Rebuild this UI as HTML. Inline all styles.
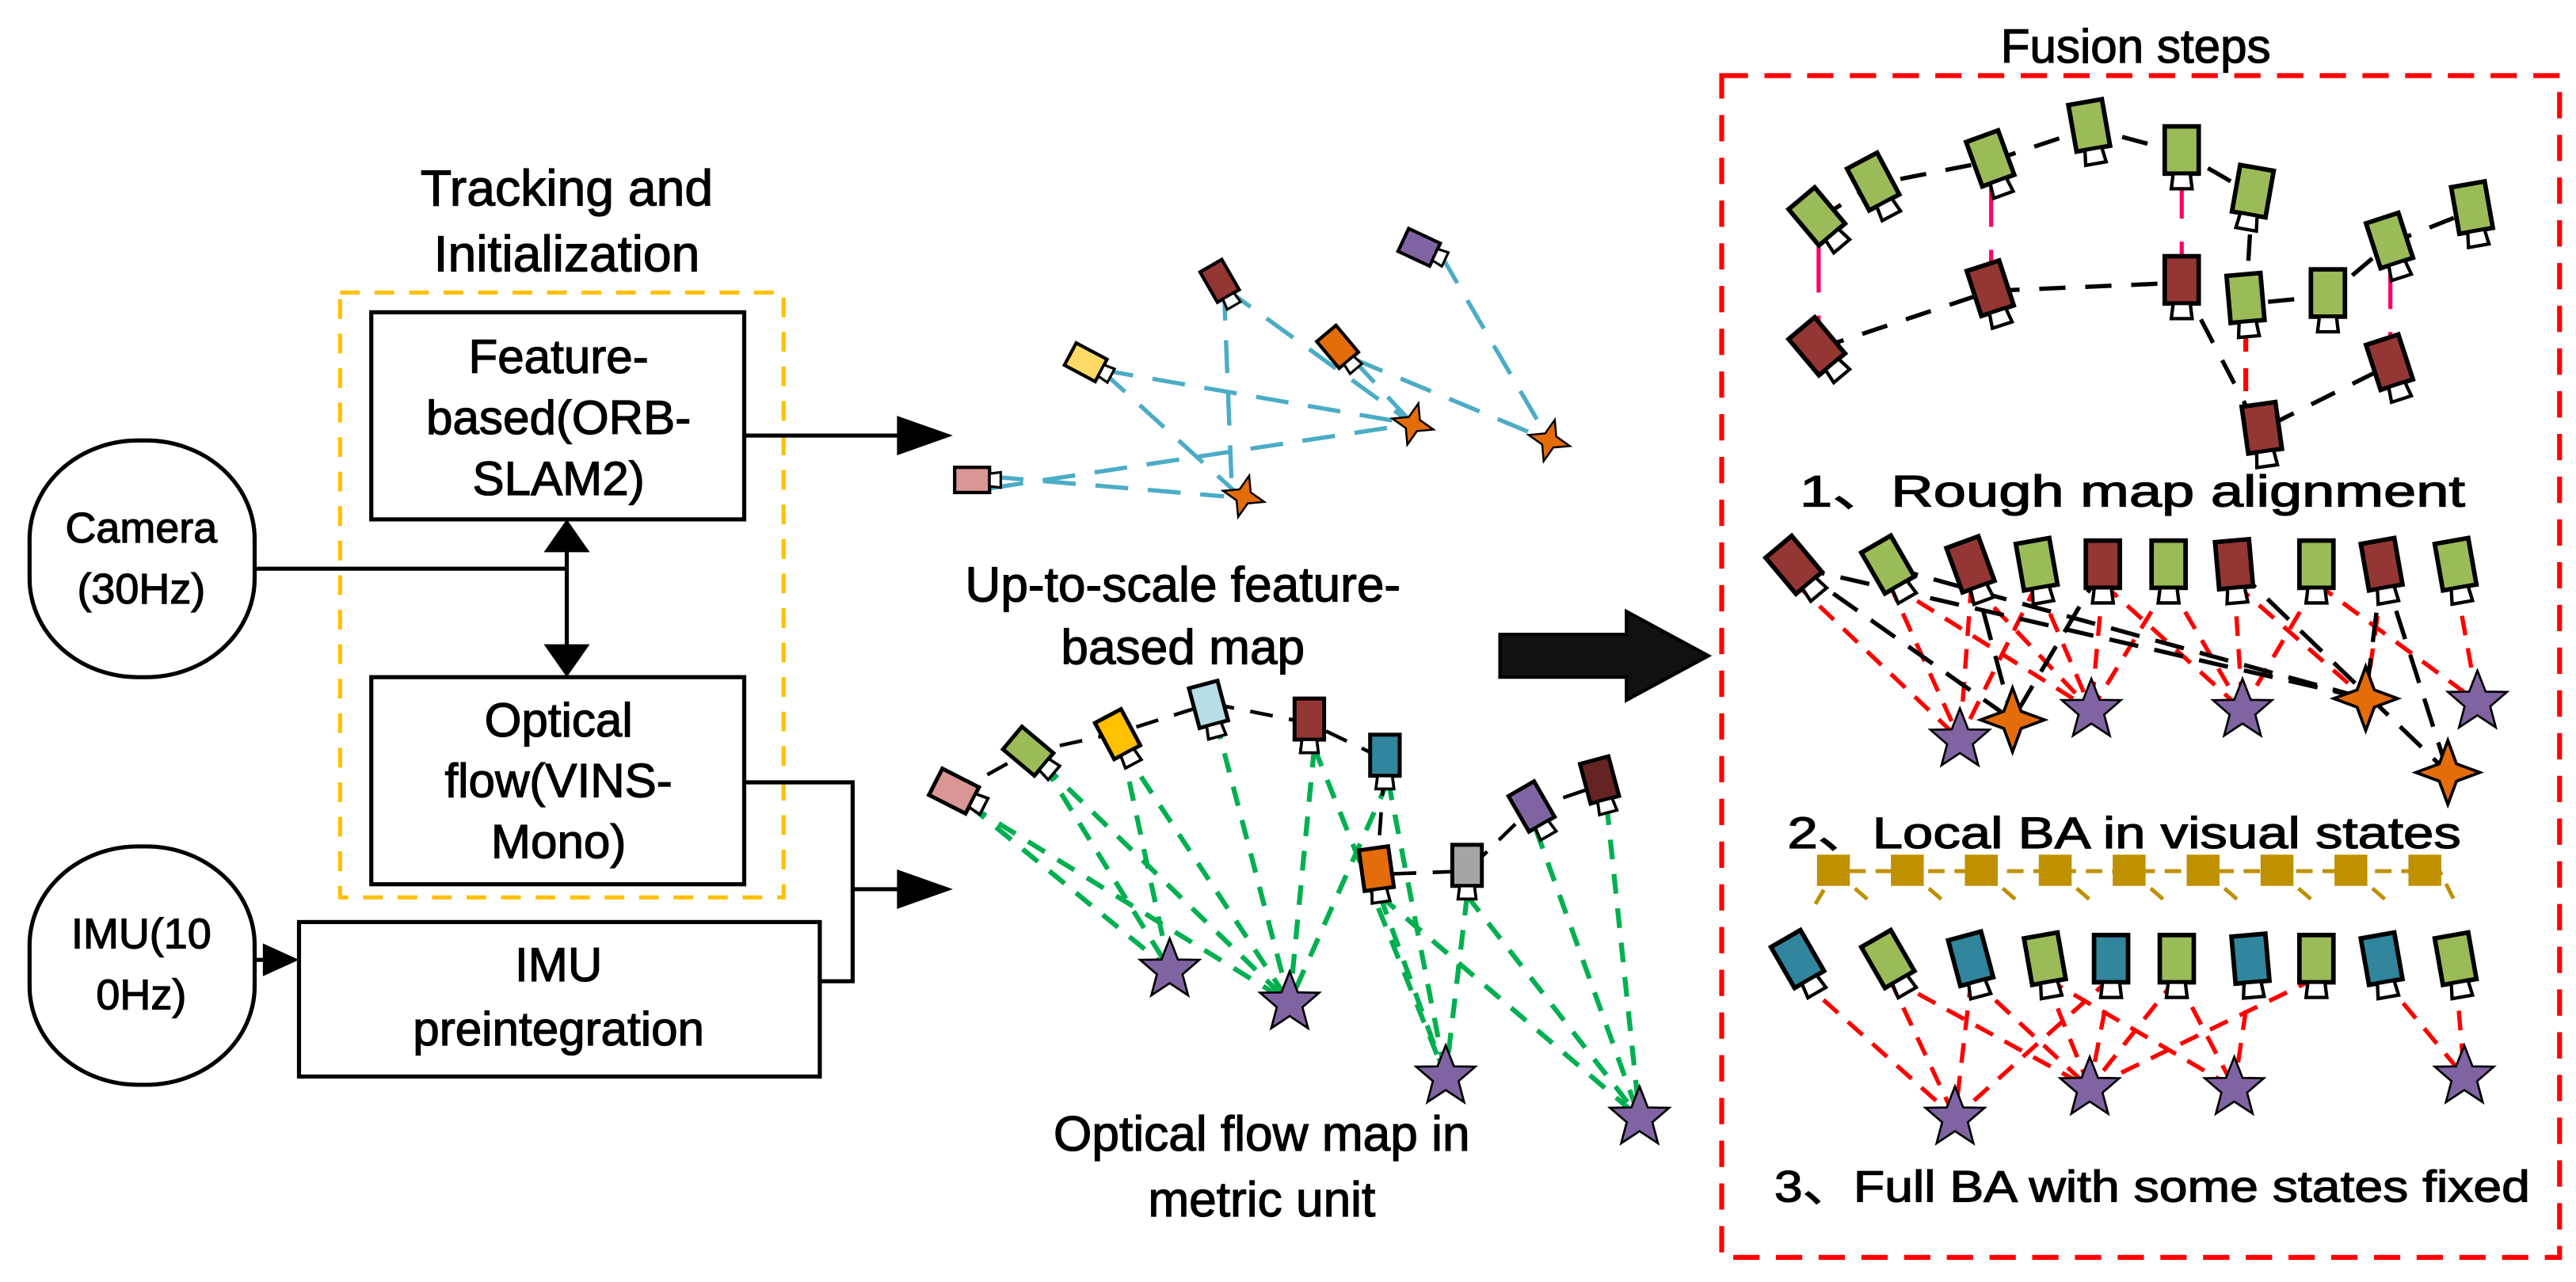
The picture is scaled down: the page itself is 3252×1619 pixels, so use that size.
<!DOCTYPE html>
<html><head><meta charset="utf-8"><style>
html,body{margin:0;padding:0;background:#fff;}
svg{display:block;}
text{font-family:"Liberation Sans",sans-serif;fill:#000;stroke:#000;stroke-width:0.6;}
</style></head><body>
<svg width="3252" height="1619" viewBox="0 0 1568 780" preserveAspectRatio="none" xmlns="http://www.w3.org/2000/svg">
<defs>
<g id="cam"><rect x="-9" y="-14" width="18" height="25" stroke="#000" stroke-width="2.4"/><path d="M-4.5 11 L4.5 11 L5.5 19 L-5.5 19 Z" fill="#fff" stroke="#000" stroke-width="1.8"/></g>
<path id="st5" d="M0,-19 L5,-6.2 L18,-6 L7.8,2.8 L11.2,15.6 L0,8.2 L-11.2,15.6 L-7.8,2.8 L-18,-6 L-5,-6.2 Z" fill="#8064a2" stroke="#000" stroke-width="1.3"/>
<path id="st4" d="M0,-13 L3.5,-3.5 L13,0 L3.5,3.5 L0,13 L-3.5,3.5 L-13,0 L-3.5,-3.5 Z" fill="#e46c0a" stroke="#000" stroke-width="1.2"/>
</defs>

<!-- Left section -->
<text x="345" y="125" font-size="31" text-anchor="middle">Tracking and</text>
<text x="345" y="165" font-size="31" text-anchor="middle">Initialization</text>
<rect x="207" y="178" width="270" height="368" fill="none" stroke="#ffc000" stroke-width="2.5" stroke-dasharray="12,9"/>
<rect x="226" y="190" width="227" height="126" fill="#fff" stroke="#000" stroke-width="2.5"/>
<text x="340" y="227" font-size="29" text-anchor="middle">Feature-</text>
<text x="340" y="264" font-size="29" text-anchor="middle">based(ORB-</text>
<text x="340" y="301" font-size="29" text-anchor="middle">SLAM2)</text>
<rect x="226" y="412" width="227" height="126" fill="#fff" stroke="#000" stroke-width="2.5"/>
<text x="340" y="448" font-size="29" text-anchor="middle">Optical</text>
<text x="340" y="485" font-size="29" text-anchor="middle">flow(VINS-</text>
<text x="340" y="522" font-size="29" text-anchor="middle">Mono)</text>
<rect x="182" y="561" width="317" height="94" fill="#fff" stroke="#000" stroke-width="2.5"/>
<text x="340" y="597" font-size="29" text-anchor="middle">IMU</text>
<text x="340" y="636" font-size="29" text-anchor="middle">preintegration</text>
<rect x="18" y="268" width="137" height="144" rx="66" ry="60" fill="#fff" stroke="#000" stroke-width="2.5"/>
<text x="86" y="330" font-size="26" text-anchor="middle">Camera</text>
<text x="86" y="367" font-size="26" text-anchor="middle">(30Hz)</text>
<rect x="18" y="515" width="137" height="145" rx="66" ry="60" fill="#fff" stroke="#000" stroke-width="2.5"/>
<text x="86" y="577" font-size="26" text-anchor="middle">IMU(10</text>
<text x="86" y="614" font-size="26" text-anchor="middle">0Hz)</text>
<g stroke="#000" stroke-width="2.5" fill="none">
<path d="M155,346 H345"/>
<path d="M345,335 V395"/>
<path d="M453,265 H548"/>
<path d="M453,476 H519 V597 H499"/>
<path d="M519,541 H548"/>
<path d="M155,584 H165"/>
</g>
<path d="M345,316 L331,336 L359,336 Z"/>
<path d="M345,412 L331,392 L359,392 Z"/>
<path d="M580,265 L546,253 L546,277 Z"/>
<path d="M580,541 L546,529 L546,553 Z"/>
<path d="M182,584 L160,574 L160,594 Z"/>

<!-- upper map -->
<g stroke="#4bacc6" stroke-width="2.6" stroke-dasharray="20,12" fill="none">
<path d="M603,290 L745,302"/><path d="M603,297 L860,258"/>
<path d="M670,225 L860,258"/><path d="M670,225 L755,302"/>
<path d="M745,175 L750,302"/><path d="M745,175 L860,258"/>
<path d="M823,218 L943,268"/><path d="M823,218 L860,258"/>
<path d="M877,155 L943,268"/>
</g>
<use href="#cam" transform="translate(593,292) rotate(-90) scale(0.85)" fill="#d99694"/>
<use href="#cam" transform="translate(662,221) rotate(-62) scale(0.85)" fill="#ffd966"/>
<use href="#cam" transform="translate(743,172) rotate(-30) scale(0.85)" fill="#943634"/>
<use href="#cam" transform="translate(815,212) rotate(-40) scale(0.85)" fill="#e46c0a"/>
<use href="#cam" transform="translate(865,151) rotate(-65) scale(0.85)" fill="#8064a2"/>
<use href="#st4" transform="translate(860,258) rotate(15)"/>
<use href="#st4" transform="translate(943,268) rotate(15)"/>
<use href="#st4" transform="translate(757,302) rotate(15)"/>
<text x="720" y="366" font-size="30" text-anchor="middle">Up-to-scale feature-</text>
<text x="720" y="404" font-size="30" text-anchor="middle">based map</text>

<!-- big arrow -->
<path d="M913,386 H990 V372 L1040,399 L990,426 V412 H913 Z" fill="#111" stroke="#000" stroke-width="2"/>

<!-- lower map -->
<g stroke="#00b050" stroke-width="3" stroke-dasharray="12,9" fill="none">
<path d="M590,490 L712,590"/><path d="M590,490 L785,610"/>
<path d="M635,465 L712,590"/><path d="M635,465 L785,610"/>
<path d="M683,455 L712,590"/><path d="M683,455 L785,610"/>
<path d="M740,438 L785,610"/>
<path d="M800,455 L785,610"/><path d="M800,455 L880,655"/>
<path d="M845,475 L785,610"/><path d="M845,475 L880,655"/>
<path d="M840,545 L880,655"/><path d="M840,545 L998,680"/>
<path d="M893,545 L880,655"/><path d="M893,545 L998,680"/>
<path d="M935,505 L998,680"/><path d="M978,490 L998,680"/>
</g>
<g stroke="#000" stroke-width="2.2" stroke-dasharray="14,10" fill="none">
<path d="M580,483 L625,458 L680,446 L737,428 L797,440 L843,462 L838,532 L893,530 L932,492 L973,478"/>
</g>
<use href="#cam" transform="translate(582,482) rotate(-63)" fill="#d99694"/>
<use href="#cam" transform="translate(627,458) rotate(-50)" fill="#9bbb59"/>
<use href="#cam" transform="translate(681,448) rotate(-28)" fill="#ffc000"/>
<use href="#cam" transform="translate(736,430) rotate(-15)" fill="#b7dde8"/>
<use href="#cam" transform="translate(797,439) rotate(0)" fill="#943634"/>
<use href="#cam" transform="translate(843,461) rotate(0)" fill="#31859c"/>
<use href="#cam" transform="translate(838,530) rotate(-8)" fill="#e46c0a"/>
<use href="#cam" transform="translate(893,528) rotate(0)" fill="#a5a5a5"/>
<use href="#cam" transform="translate(933,492) rotate(-30)" fill="#8064a2"/>
<use href="#cam" transform="translate(974,476) rotate(-15)" fill="#632423"/>
<use href="#st5" transform="translate(712,590)"/>
<use href="#st5" transform="translate(785,610)"/>
<use href="#st5" transform="translate(880,655)"/>
<use href="#st5" transform="translate(998,680)"/>
<text x="768" y="700" font-size="30" text-anchor="middle">Optical flow map in</text>
<text x="768" y="740" font-size="30" text-anchor="middle">metric unit</text>

<!-- Fusion -->
<text x="1300" y="38" font-size="29" text-anchor="middle">Fusion steps</text>
<rect x="1048" y="46" width="510" height="719" fill="none" stroke="#ff0000" stroke-width="3" stroke-dasharray="16,10"/>

<!-- step1 -->
<g stroke="#ff0066" stroke-width="2.5" stroke-dasharray="28,14"><path d="M1107,150 V205"/><path d="M1212,110 V175"/><path d="M1328,105 V170"/><path d="M1455,160 V215"/></g>
<path d="M1367,200 V255" stroke="#ff0000" stroke-width="3" stroke-dasharray="14,10"/>
<g stroke="#000" stroke-width="2.6" stroke-dasharray="16,12" fill="none">
<path d="M1107,133 L1141,112 L1212,98 L1272,78 L1328,93 L1371,118 L1367,185 L1417,180 L1455,148 L1505,128"/>
<path d="M1107,212 L1212,177 L1328,172 L1375,262 L1455,222"/>
</g>
<g transform="translate(0,0)">
<use href="#cam" transform="translate(1107,133) rotate(-40) scale(1.15)" fill="#9bbb59"/>
<use href="#cam" transform="translate(1141,112) rotate(-28) scale(1.15)" fill="#9bbb59"/>
<use href="#cam" transform="translate(1212,98) rotate(-20) scale(1.15)" fill="#9bbb59"/>
<use href="#cam" transform="translate(1272,78) rotate(-10) scale(1.15)" fill="#9bbb59"/>
<use href="#cam" transform="translate(1328,93) rotate(0) scale(1.15)" fill="#9bbb59"/>
<use href="#cam" transform="translate(1371,118) rotate(10) scale(1.15)" fill="#9bbb59"/>
<use href="#cam" transform="translate(1367,183) rotate(-5) scale(1.15)" fill="#9bbb59"/>
<use href="#cam" transform="translate(1417,180) rotate(0) scale(1.15)" fill="#9bbb59"/>
<use href="#cam" transform="translate(1455,148) rotate(-18) scale(1.15)" fill="#9bbb59"/>
<use href="#cam" transform="translate(1505,128) rotate(-10) scale(1.15)" fill="#9bbb59"/>
<use href="#cam" transform="translate(1107,212) rotate(-40) scale(1.15)" fill="#943634"/>
<use href="#cam" transform="translate(1212,177) rotate(-18) scale(1.15)" fill="#943634"/>
<use href="#cam" transform="translate(1328,172) rotate(0) scale(1.15)" fill="#943634"/>
<use href="#cam" transform="translate(1455,222) rotate(-18) scale(1.15)" fill="#943634"/>
<use href="#cam" transform="translate(1377,262) rotate(-8) scale(1.15)" fill="#943634"/>
</g>
<text x="1298" y="308" font-size="27" text-anchor="middle" textLength="405" lengthAdjust="spacingAndGlyphs">1、Rough map alignment</text>

<!-- step2 -->
<g stroke="#ff0000" stroke-width="2.6" stroke-dasharray="12,8" fill="none">
<path d="M1093,355 L1193,450"/><path d="M1150,355 L1193,450"/><path d="M1150,355 L1273,432"/>
<path d="M1200,355 L1193,450"/><path d="M1200,355 L1273,432"/><path d="M1240,355 L1273,432"/><path d="M1240,355 L1193,450"/>
<path d="M1280,355 L1273,432"/><path d="M1280,355 L1365,432"/><path d="M1320,355 L1365,432"/><path d="M1320,355 L1273,432"/>
<path d="M1360,355 L1365,432"/><path d="M1360,355 L1440,425"/><path d="M1410,355 L1365,432"/><path d="M1410,355 L1508,427"/>
<path d="M1450,355 L1440,425"/><path d="M1495,355 L1508,427"/>
</g>
<g stroke="#000" stroke-width="2.6" stroke-dasharray="18,10" fill="none">
<path d="M1093,345 L1225,438"/><path d="M1093,345 L1440,425"/><path d="M1150,345 L1440,425"/>
<path d="M1200,345 L1225,438"/><path d="M1280,345 L1225,438"/><path d="M1360,345 L1490,470"/><path d="M1450,345 L1440,425"/><path d="M1450,345 L1490,470"/>
</g>
<use href="#cam" transform="translate(1093,345) rotate(-40) scale(1.15)" fill="#943634"/>
<use href="#cam" transform="translate(1150,345) rotate(-30) scale(1.15)" fill="#9bbb59"/>
<use href="#cam" transform="translate(1200,345) rotate(-20) scale(1.15)" fill="#943634"/>
<use href="#cam" transform="translate(1240,345) rotate(-10) scale(1.15)" fill="#9bbb59"/>
<use href="#cam" transform="translate(1280,345) rotate(0) scale(1.15)" fill="#943634"/>
<use href="#cam" transform="translate(1320,345) rotate(0) scale(1.15)" fill="#9bbb59"/>
<use href="#cam" transform="translate(1360,345) rotate(-5) scale(1.15)" fill="#943634"/>
<use href="#cam" transform="translate(1410,345) rotate(0) scale(1.15)" fill="#9bbb59"/>
<use href="#cam" transform="translate(1450,345) rotate(-10) scale(1.15)" fill="#943634"/>
<use href="#cam" transform="translate(1495,345) rotate(-10) scale(1.15)" fill="#9bbb59"/>
<use href="#st5" transform="translate(1193,450)"/>
<use href="#st5" transform="translate(1273,432)"/>
<use href="#st5" transform="translate(1365,432)"/>
<use href="#st5" transform="translate(1508,427)"/>
<use href="#st4" transform="translate(1225,438) scale(1.5)"/>
<use href="#st4" transform="translate(1440,425) scale(1.5)"/>
<use href="#st4" transform="translate(1490,470) scale(1.5)"/>
<text x="1293" y="516" font-size="27" text-anchor="middle" textLength="410" lengthAdjust="spacingAndGlyphs">2、Local BA in visual states</text>

<!-- step3 -->
<g stroke="#bf9000" stroke-width="2.4" stroke-dasharray="10,6" fill="none"><path d="M1105,550 L1117,530 H1485 L1495,550"/><path d="M1117,530 L1140,550 M1162,530 L1185,550 M1207,530 L1230,550 M1252,530 L1275,550 M1297,530 L1320,550 M1342,530 L1365,550 M1387,530 L1410,550 M1432,530 L1455,550"/></g>
<g fill="#bf9000">
<rect x="1106" y="520" width="20" height="19"/><rect x="1151" y="520" width="20" height="19"/><rect x="1196" y="520" width="20" height="19"/><rect x="1241" y="520" width="20" height="19"/><rect x="1286" y="520" width="20" height="19"/><rect x="1331" y="520" width="20" height="19"/><rect x="1376" y="520" width="20" height="19"/><rect x="1421" y="520" width="20" height="19"/><rect x="1466" y="520" width="20" height="19"/>
</g>
<g stroke="#ff0000" stroke-width="2.6" stroke-dasharray="12,8" fill="none">
<path d="M1095,595 L1190,680"/><path d="M1150,595 L1190,680"/><path d="M1150,595 L1272,662"/>
<path d="M1200,595 L1190,680"/><path d="M1200,595 L1272,662"/><path d="M1245,595 L1272,662"/><path d="M1245,595 L1360,662"/>
<path d="M1285,595 L1272,662"/><path d="M1285,595 L1190,680"/><path d="M1325,595 L1360,662"/><path d="M1325,595 L1272,662"/>
<path d="M1370,595 L1360,662"/><path d="M1410,595 L1272,662"/><path d="M1450,595 L1500,655"/><path d="M1495,595 L1500,655"/>
</g>
<g stroke="#e46c0a" stroke-width="2">
<use href="#cam" transform="translate(1095,585) rotate(-30) scale(1.15)" fill="#31859c"/>
<use href="#cam" transform="translate(1200,585) rotate(-15) scale(1.15)" fill="#31859c"/>
<use href="#cam" transform="translate(1285,585) rotate(0) scale(1.15)" fill="#31859c"/>
<use href="#cam" transform="translate(1370,585) rotate(-5) scale(1.15)" fill="#31859c"/>
<use href="#cam" transform="translate(1450,585) rotate(-10) scale(1.15)" fill="#31859c"/>
</g>
<use href="#cam" transform="translate(1150,585) rotate(-30) scale(1.15)" fill="#9bbb59"/>
<use href="#cam" transform="translate(1245,585) rotate(-10) scale(1.15)" fill="#9bbb59"/>
<use href="#cam" transform="translate(1325,585) rotate(0) scale(1.15)" fill="#9bbb59"/>
<use href="#cam" transform="translate(1410,585) rotate(0) scale(1.15)" fill="#9bbb59"/>
<use href="#cam" transform="translate(1495,585) rotate(-10) scale(1.15)" fill="#9bbb59"/>
<use href="#st5" transform="translate(1190,680)"/>
<use href="#st5" transform="translate(1272,662)"/>
<use href="#st5" transform="translate(1360,662)"/>
<use href="#st5" transform="translate(1500,655)"/>
<text x="1310" y="731" font-size="27" text-anchor="middle" textLength="460" lengthAdjust="spacingAndGlyphs">3、Full BA with some states fixed</text>
</svg>
</body></html>
